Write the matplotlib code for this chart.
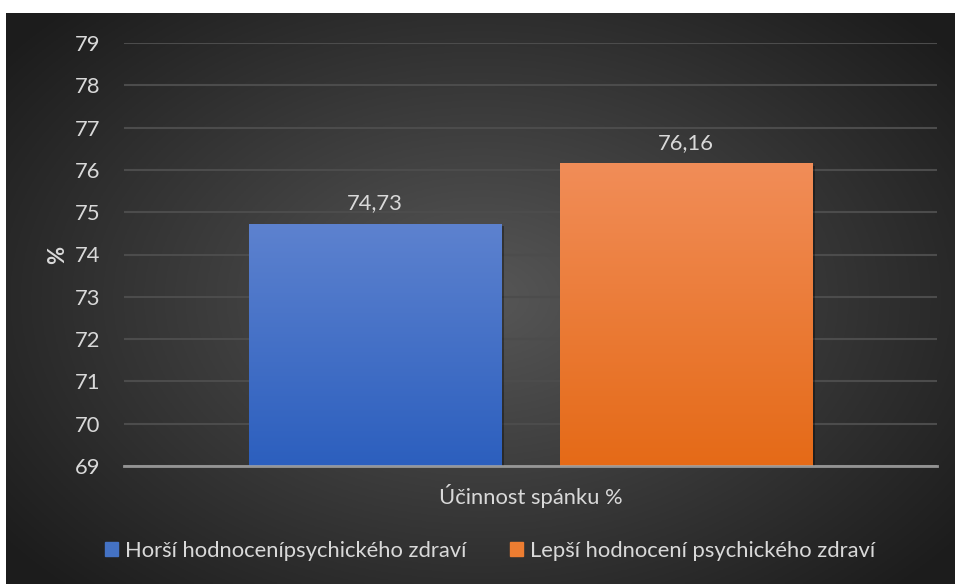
import numpy as np
import matplotlib.pyplot as plt
from matplotlib import patheffects
from matplotlib.colors import to_rgb

plt.rcParams['font.family'] = ['Lato', 'DejaVu Sans']

category = "Účinnost spánku %"
series_names = ["Horší hodnocenípsychického zdraví", "Lepší hodnocení psychického zdraví"]
values = [74.73, 76.16]
value_labels = ["74,73", "76,16"]
y_ticks = list(range(69, 80))

text_color = "#d9d9d9"
bar_top_colors = ["#5d82cf", "#f18d58"]
bar_bottom_colors = ["#2c5fbe", "#e56a17"]
fs = 15.8

fig = plt.figure(figsize=(9.55, 5.84), dpi=100)
fig.patch.set_facecolor("white")

# dark radial background for the chart area
bg = fig.add_axes([6 / 955, 0, 949 / 955, 571 / 584])
bg.set_axis_off()
gx, gy = np.meshgrid(np.linspace(-1, 1, 400), np.linspace(-1, 1, 250))
r = np.clip(np.sqrt((gx * 0.95) ** 2 + (gy * 0.85) ** 2), 0, 1.2)
shade = 0.34 - 0.19 * r
bg.imshow(np.dstack([shade] * 3), aspect="auto", extent=[0, 1, 0, 1])
bg.set_xlim(0, 1)
bg.set_ylim(0, 1)

ax = fig.add_axes([124 / 955, 118 / 584, 813 / 955, 423 / 584])
ax.patch.set_alpha(0)

offsets = [-0.191, 0.191]
width = 0.31
bars = ax.bar(offsets, [v - 69 for v in values], width=width, bottom=69, zorder=3,
              color=bar_bottom_colors)

for bar, top, bottom, label in zip(bars, bar_top_colors, bar_bottom_colors, value_labels):
    x0, y0 = bar.get_x(), bar.get_y()
    x1, y1 = x0 + bar.get_width(), y0 + bar.get_height()
    bar.set_path_effects([patheffects.SimplePatchShadow(offset=(2, -2), alpha=0.35, shadow_rgbFace="black"),
                          patheffects.Normal()])
    c_top = np.array(to_rgb(top))
    c_bot = np.array(to_rgb(bottom))
    t = np.linspace(0, 1, 200)[:, None]
    grad = (c_top * (1 - t) + c_bot * t)[:, None, :]
    im = ax.imshow(grad, aspect="auto", extent=[x0, x1, y0, y1], zorder=4)
    im.set_clip_path(bar)
    ax.annotate(label, (bar.get_x() + bar.get_width() / 2, y1), xytext=(0, 7.5),
                textcoords="offset points", ha="center", va="bottom",
                color=text_color, fontsize=fs)

ax.set_xlim(-0.5, 0.5)
ax.set_ylim(69, 79)
ax.set_yticks(y_ticks)
ax.set_xticks([])
ax.grid(axis="y", color="#4c4c4c", linewidth=1.5, zorder=1)
ax.tick_params(axis="y", length=0, pad=17, labelsize=fs, labelcolor=text_color)
for side in ["top", "right", "left"]:
    ax.spines[side].set_visible(False)
ax.spines["bottom"].set_color("#a6a6a6")
ax.spines["bottom"].set_alpha(0.85)
ax.spines["bottom"].set_linewidth(2)
ax.spines["bottom"].set_zorder(6)
ax.set_ylabel("%", color=text_color, fontsize=fs, fontweight="bold", labelpad=5)
ax.set_xlabel(category, color=text_color, fontsize=fs, labelpad=13)

handles = [plt.Rectangle((0, 0), 1, 1, color=c) for c in ["#4472c4", "#ed7d31"]]
fig.legend(handles, series_names, loc="center", bbox_to_anchor=(490 / 955, 33 / 584),
           ncol=2, frameon=False, fontsize=fs, labelcolor=text_color,
           handlelength=0.6, handleheight=0.6, handletextpad=0.3, columnspacing=2.0)

fig.savefig("out.png", dpi=100, facecolor=fig.get_facecolor())
